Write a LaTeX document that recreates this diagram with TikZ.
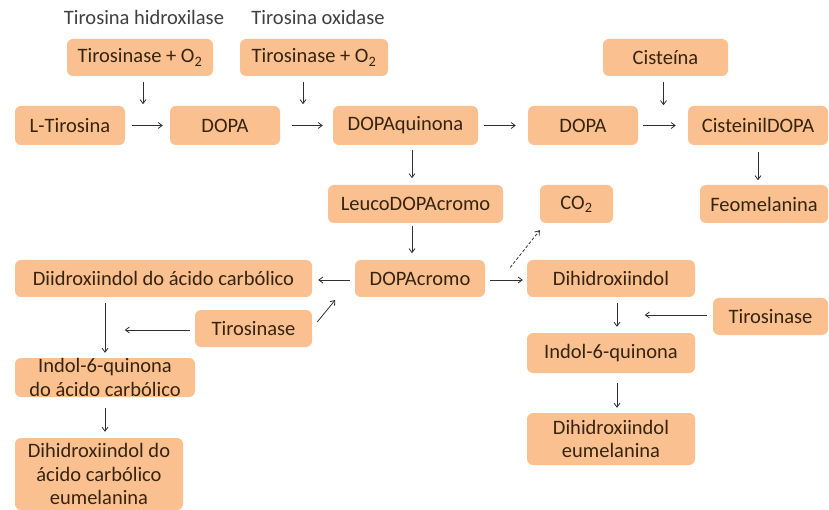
\documentclass[tikz,border=0pt]{standalone}
\usepackage{fontspec}
\setmainfont{Carlito}
\usetikzlibrary{arrows.meta,calc}
\definecolor{boxfill}{HTML}{FAC090}
\definecolor{txt}{HTML}{36240F}
\definecolor{arrc}{HTML}{303030}
\begin{document}
\begin{tikzpicture}[x=1pt,y=-1pt,
  box/.style={fill=boxfill, rounded corners=6pt, text=txt,
    font=\fontsize{20.5}{23.5}\selectfont, inner sep=0pt, align=center},
  sz/.style 2 args={minimum width=#1pt, minimum height=#2pt},
  arr/.style={draw=arrc, line width=0.8pt, -{Straight Barb[length=4pt,width=6pt]}},
  darr/.style={arr, dashed, dash pattern=on 3pt off 2pt},
  lbl/.style={font=\fontsize{20.5}{22}\selectfont, text=black!75, inner sep=0pt}]
\useasboundingbox[fill=white] (0,0) rectangle (829,510);

% labels
\node[lbl] (l1) at (144,17) {Tirosina hidroxilase};
\node[lbl] (l2) at (318,17) {Tirosina oxidase};

% top enzyme boxes
\node[box, sz={146}{37}] (t1) at (140,57.5) {Tirosinase + O\textsubscript{2}};
\node[box, sz={148}{37}] (t2) at (314,57.5) {Tirosinase + O\textsubscript{2}};
\node[box, sz={125}{37}] (cis) at (665.5,57.5) {Cisteína};

% main row
\node[box, sz={110}{39}] (ltir) at (70,125.5) {L-Tirosina};
\node[box, sz={110}{39}] (dopa1) at (225,125.5) {DOPA};
\node[box, sz={145}{39}] (dq) at (405.5,125.5) {DOPAquinona};
\node[box, sz={110}{39}] (dopa2) at (583,125.5) {DOPA};
\node[box, sz={140}{39}] (cdopa) at (758,125.5) {CisteinilDOPA};

% row 2
\node[box, sz={175}{38}] (leuco) at (415.5,204) {LeucoDOPAcromo};
\node[box, sz={73}{38}] (co2) at (576.5,204) {CO\textsubscript{2}};
\node[box, sz={128}{38}] (feo) at (764,204) {Feomelanina};

% row 3
\node[box, sz={130}{37}] (dc) at (420,278.5) {DOPAcromo};
\node[box, sz={297}{37}] (diac) at (163.5,278.5) {Diidroxiindol do ácido carbólico};
\node[box, sz={168}{37}] (dhi) at (611,278.5) {Dihidroxiindol};

% enzymes lower
\node[box, sz={117}{37}] (tirL) at (253.5,328.5) {Tirosinase};
\node[box, sz={115}{37}] (tirR) at (770.5,316.5) {Tirosinase};

% lower boxes
\node[box, sz={180}{39}] (i6qL) at (105,377.5) {Indol-6-quinona\\do ácido carbólico};
\node[box, sz={168}{40}] (i6qR) at (611,353) {Indol-6-quinona};
\node[box, sz={168}{72}] (dhiac) at (99,474) {Dihidroxiindol do\\ácido carbólico\\eumelanina};
\node[box, sz={168}{52}] (dhie) at (611,439) {Dihidroxiindol\\eumelanina};

% main row arrows
\draw[arr] ($(ltir.east)+(7,0)$) -- ($(dopa1.west)+(-7,0)$);
\draw[arr] ($(dopa1.east)+(12,0)$) -- ($(dq.west)+(-10,0)$);
\draw[arr] ($(dq.east)+(6,0)$) -- ($(dopa2.west)+(-12,0)$);
\draw[arr] ($(dopa2.east)+(5,0)$) -- ($(cdopa.west)+(-12,0)$);

% enzyme arrows
\draw[arr] ($(t1.south)+(3,6)$) -- ($(t1.south)+(3,28)$);
\draw[arr] ($(t2.south)+(-11,6)$) -- ($(t2.south)+(-11,28)$);
\draw[arr] ($(cis.south)+(-2,6)$) -- ($(cis.south)+(-2,29)$);

% vertical arrows centre
\draw[arr] ($(dq.south)+(6.5,5)$) -- ($(dq.south)+(6.5,33)$);
\draw[arr] ($(leuco.south)+(-3.5,3)$) -- ($(leuco.south)+(-3.5,30)$);
\draw[arr] ($(cdopa.south)+(0,7)$) -- ($(cdopa.south)+(0,35)$);

% DOPAcromo arrows
\draw[arr] ($(dc.west)+(-5,1.5)$) -- ($(diac.east)+(6,1.5)$);
\draw[arr] ($(dc.east)+(5,1.5)$) -- ($(dhi.west)+(-4,1.5)$);
\draw[darr] ($(dc.east)+(25,-11)$) -- ($(co2.south west)+(0,7)$);

% left Tirosinase
\draw[arr] ($(tirL.west)+(-5,1.5)$) -- ($(tirL.west)+(-70,1.5)$);
\draw[arr] ($(tirL.east)+(5,-6.5)$) -- ($(tirL.east)+(23,-28.5)$);

% left column
\draw[arr] ($(diac.south)+(-58.5,6)$) -- ($(i6qL.north)+(0,-5)$);
\draw[arr] ($(i6qL.south)+(0,11)$) -- ($(dhiac.north)+(6,-6)$);

% right column
\draw[arr] ($(tirR.west)+(-6,-1.5)$) -- ($(tirR.west)+(-68,-1.5)$);
\draw[arr] ($(dhi.south)+(6,6)$) -- ($(i6qR.north)+(6,-6)$);
\draw[arr] ($(i6qR.south)+(6,10)$) -- ($(dhie.north)+(6,-5)$);
\end{tikzpicture}
\end{document}
